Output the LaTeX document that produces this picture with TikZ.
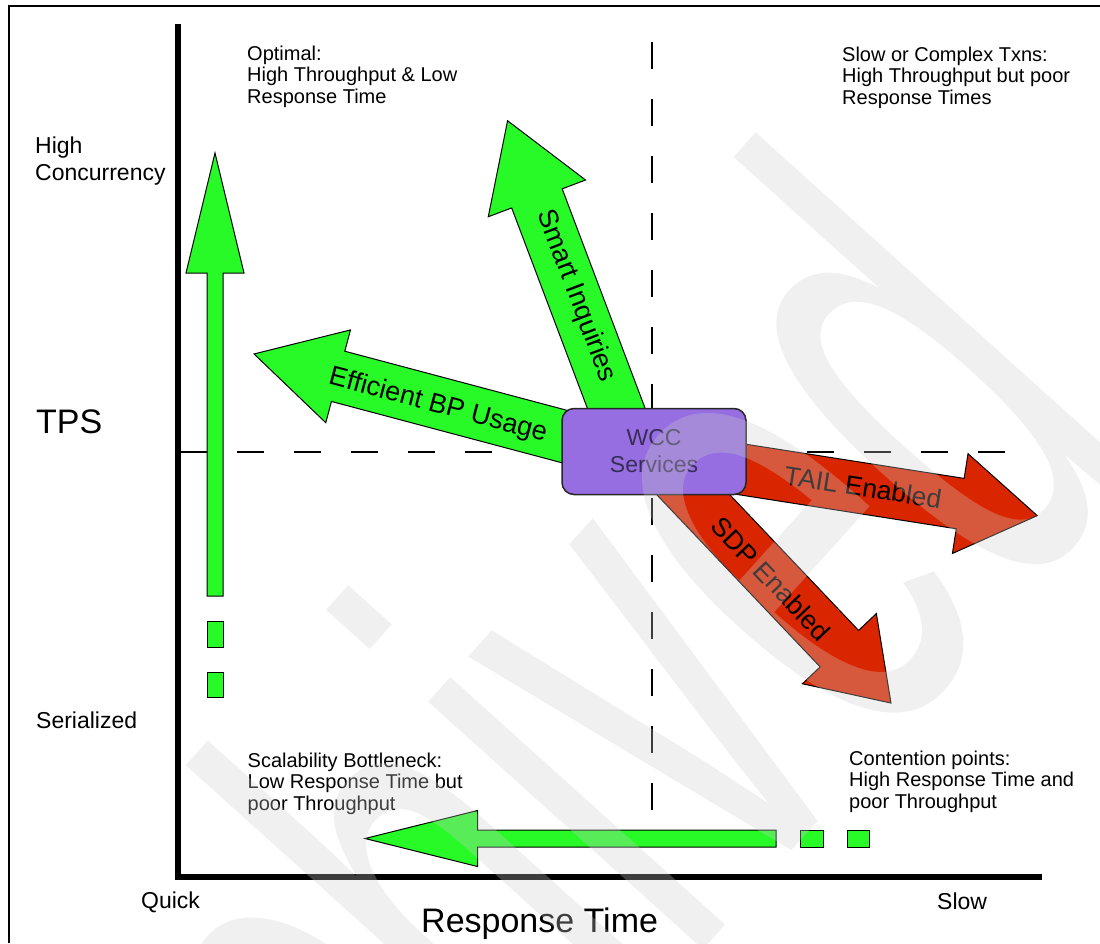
\documentclass[tikz,border=0pt]{standalone}
\usepackage{fontspec}
\usepackage{graphicx}
\setmainfont{Liberation Sans}
\definecolor{verdeFlecha}{RGB}{40,250,40}
\definecolor{rojoFlecha}{RGB}{218,38,0}
\definecolor{moradoCaja}{RGB}{150,110,225}
\definecolor{tintaCaja}{RGB}{55,45,85}
\definecolor{grisMarca}{RGB}{205,205,205}
\colorlet{colEje}{black}
\tikzset{
  flechaBase/.style={draw=black, line width=1pt, line join=miter},
  flechaVerde/.style={flechaBase, fill=verdeFlecha},
  flechaRoja/.style={flechaBase, fill=rojoFlecha},
  cajaServicio/.style={
    draw=black!85, line width=1.5pt, rounded corners=12pt,
    fill=moradoCaja, minimum width=184pt, minimum height=86pt,
    align=center, text=tintaCaja, font=\fontsize{23}{27}\selectfont
  },
  etiquetaFlecha/.style={inner sep=0pt, font=\fontsize{27}{27}\selectfont},
  etiquetaRoja/.style={etiquetaFlecha, font=\fontsize{26.5}{26.5}\selectfont},
  textoCuadrante/.style={inner sep=0pt, anchor=north west, align=left,
    font=\fontsize{20}{21.5}\selectfont},
  etiquetaEje/.style={inner sep=0pt, anchor=base west, font=\fontsize{23}{27}\selectfont},
  tituloEje/.style={inner sep=0pt, anchor=base west, font=\fontsize{34}{34}\selectfont},
  lineaGuia/.style={line width=1.3pt, dash pattern=on 27pt off 30pt},
  eje/.style={line width=6pt, colEje},
  marcaAgua/.style={inner sep=0pt, anchor=base west, text=grisMarca, opacity=0.3, rotate=48},
}
% flecha de bloque: estilo, cola, angulo, largo, medio cuerpo, media punta, largo punta
\newcommand{\flechaBloque}[7]{%
  \begin{scope}[shift={#2}, rotate=#3]
    \draw[#1] (0,-#5) -- ({#4-#7},-#5) -- ({#4-#7},-#6) -- (#4,0)
      -- ({#4-#7},#6) -- ({#4-#7},#5) -- (0,#5) -- cycle;
  \end{scope}}

\begin{document}
\begin{tikzpicture}[x=1pt, y=-1pt]
    \useasboundingbox (0,0) rectangle (1100,943);
    % marco y ejes
    \draw[line width=1.3pt] (1100,6) -- (9,6) -- (9,943);
    \draw[eje] (177.5,24) -- (177.5,877) -- (1042,877);
    \draw[lineaGuia] (180,452) -- (1006,452);
    \draw[lineaGuia] (652,42) -- (652,810);

    % flechas
    \flechaBloque{flechaVerde}{(215,596)}{90}{443}{8}{29}{120}
    \draw[flechaVerde] (207,621) rectangle (223,647);
    \draw[flechaVerde] (207,672) rectangle (223,697);
    \flechaBloque{flechaVerde}{(776,838.5)}{180}{411}{8.5}{28}{112.5}
    \draw[flechaVerde] (800,830) rectangle (823,847);
    \draw[flechaVerde] (847,830) rectangle (869,847);
    \flechaBloque{flechaVerde}{(600,446)}{165.1}{358}{26}{48}{87}
    \flechaBloque{flechaVerde}{(632,450)}{110.7}{352}{27}{52}{83}
    \flechaBloque{flechaRoja}{(650,455)}{-8.9}{392}{25.5}{50.5}{78}
    \flechaBloque{flechaRoja}{(648,447)}{-46.5}{353}{26.5}{51}{75}

    \node[etiquetaFlecha, rotate=-14.9] (usoBP) at (438,406) {Efficient BP Usage};
    \node[etiquetaFlecha, rotate=-69.3] (consultas) at (576,296) {Smart Inquiries};
    \node[etiquetaRoja, rotate=-8.9] (tail) at (863,487) {TAIL Enabled};
    \node[etiquetaRoja, rotate=-46.5] (sdp) at (771,578.5) {SDP Enabled};

    \node[cajaServicio] (wcc) at (654,451.5) {WCC\\Services};

    % cuadrantes
    \node[textoCuadrante] (optimo) at (247,45.4) {Optimal:\\High Throughput \& Low\\Response Time};
    \node[textoCuadrante] (complejo) at (842,46.4) {Slow or Complex Txns:\\High Throughput but poor\\Response Times};
    \node[textoCuadrante] (cuello) at (247.5,752.4) {Scalability Bottleneck:\\Low Response Time but\\poor Throughput};
    \node[textoCuadrante] (contencion) at (849,750.4) {Contention points:\\High Response Time and\\poor Throughput};

    % etiquetas de ejes
    \node[etiquetaEje, anchor=north west, align=left] (alta) at (35,136.5) {High\\Concurrency};
    \node[tituloEje] (tps) at (36,433) {TPS};
    \node[etiquetaEje] (serial) at (36,728) {Serialized};
    \node[etiquetaEje] (rapido) at (141,908) {Quick};
    \node[etiquetaEje] (lento) at (937,909) {Slow};
    \node[tituloEje] (tiempo) at (421,932) {Response Time};

    \node[marcaAgua] (archivado) at (166,1546)
      {\scalebox{0.54}[1]{\fontsize{700}{700}\selectfont Archived}};
\end{tikzpicture}
\end{document}
